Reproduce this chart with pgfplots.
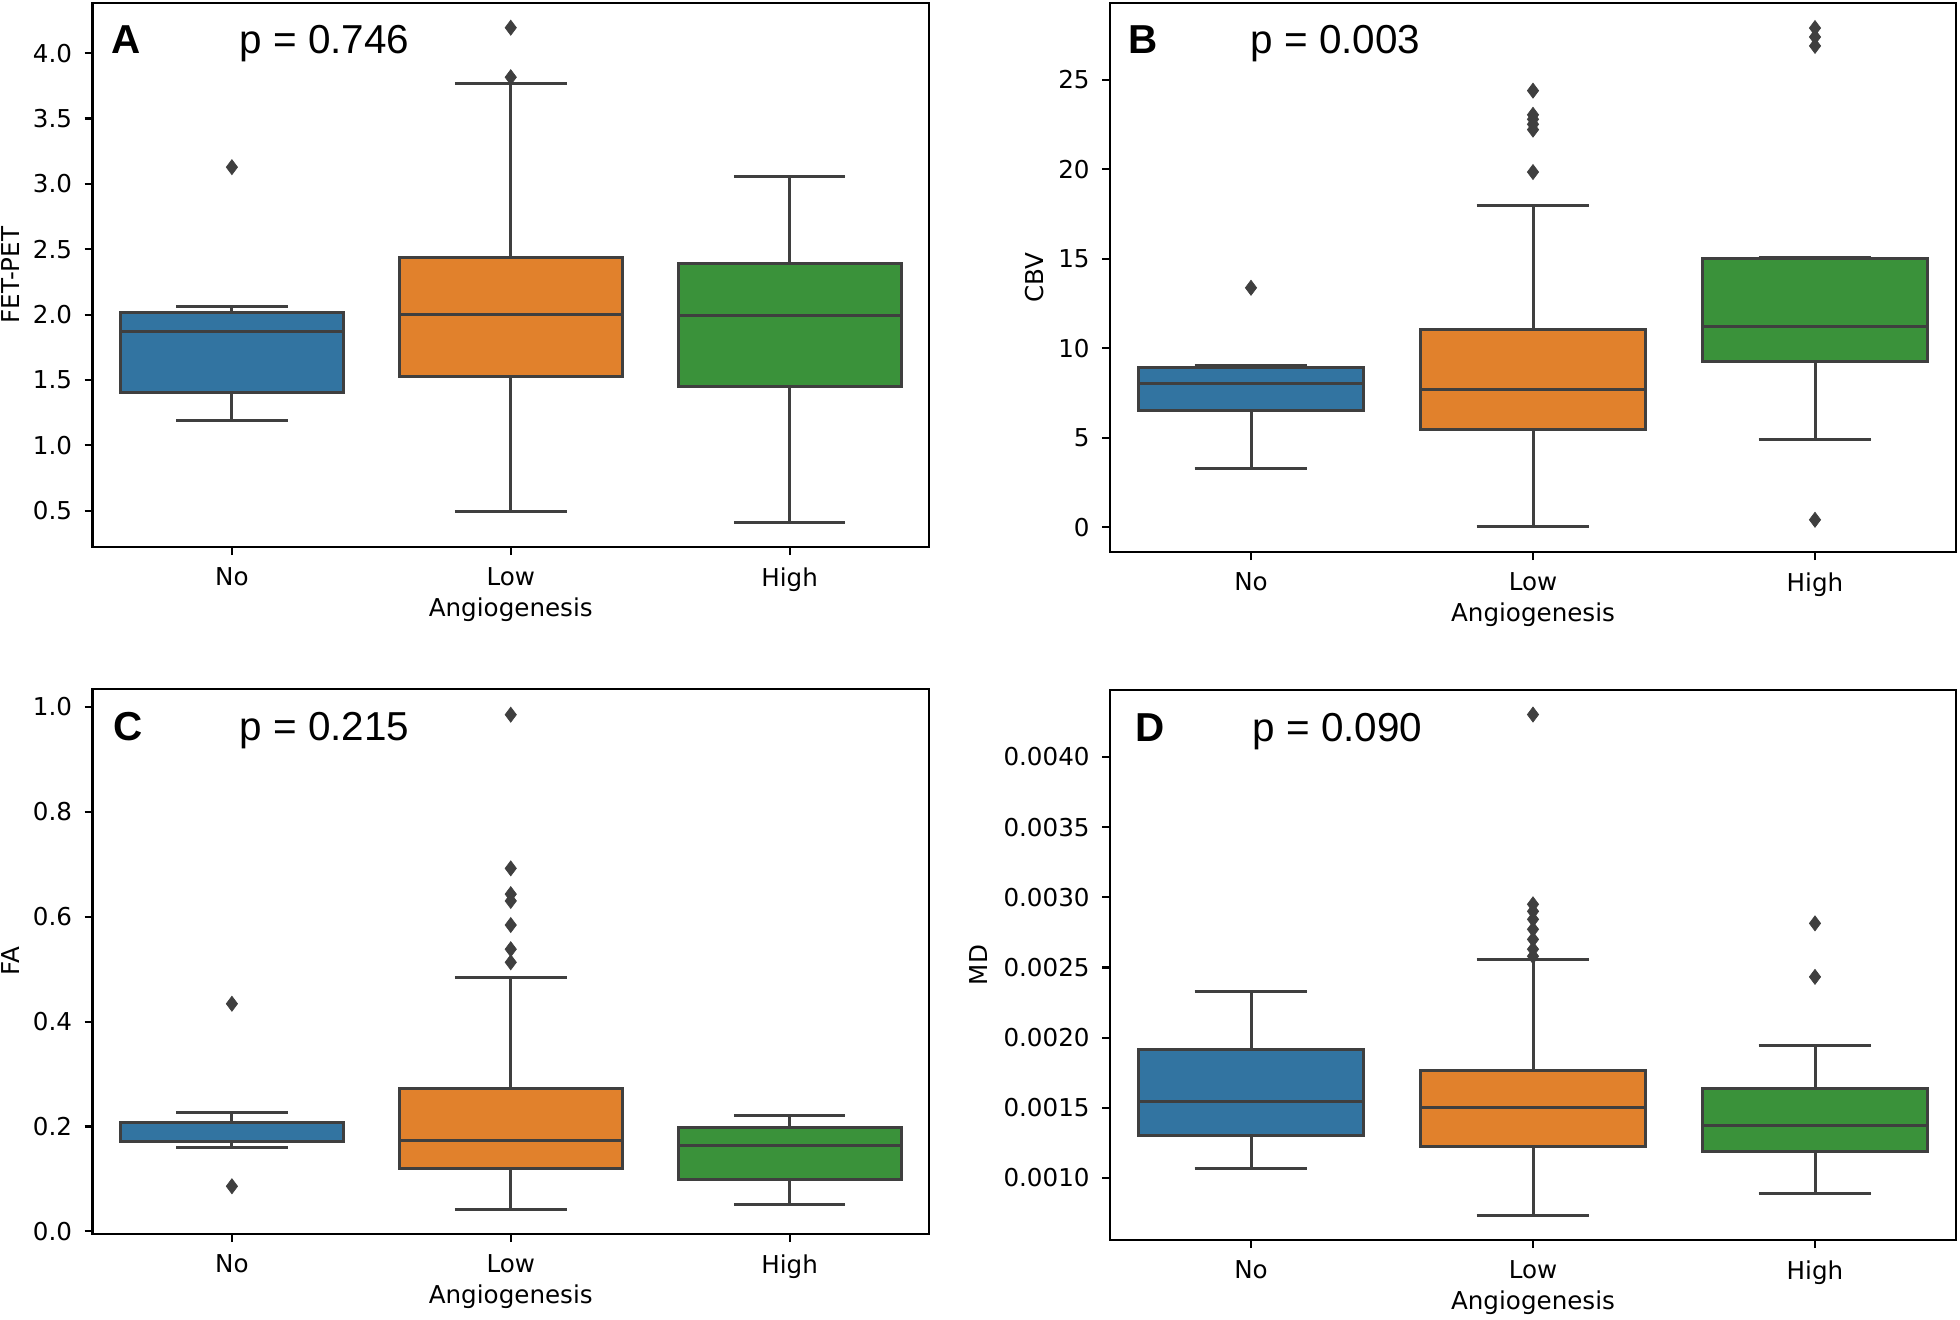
\documentclass[border=0pt]{standalone}
\usepackage{fontspec}
\setmainfont{DejaVu Sans}
\newfontfamily\arialf{Liberation Sans}
\usepackage{pgfplots}
\pgfplotsset{compat=1.18}
\usepgfplotslibrary{statistics}
\definecolor{sbblue}{HTML}{3274A1}
\definecolor{sborange}{HTML}{E1812C}
\definecolor{sbgreen}{HTML}{3A923A}
\definecolor{sbgray}{HTML}{3F3F3F}
\pgfplotsset{
  sbox/.style={
    scale only axis, anchor=north west,
    xmin=-0.5, xmax=2.5, xtick={0,1,2}, xticklabels={No,Low,High},
    xlabel={Angiogenesis},
    xlabel style={at={(axis description cs:0.5,0)}, anchor=center, yshift=-6.3mm},
    tick align=outside, major tick length=0.8mm, tick pos=left,
    every tick/.style={black, line width=0.6pt},
    axis line style={line width=0.6pt, black},
    ticklabel style={font=\fontsize{7}{8}\selectfont},
    label style={font=\fontsize{7}{8}\selectfont},
    /pgf/number format/assume math mode=true,
    boxplot/draw direction=y,
    scaled y ticks=false,
  },
  ylab/.style={ylabel style={at={([xshift=-#1]axis description cs:0,0.5)}, anchor=center}},
  bx/.style={draw=sbgray, fill=#1, line width=0.85pt,
    mark=diamond*, mark size=0.75mm,
    mark options={fill=sbgray, draw=sbgray, line width=0.2pt}},
}
\newcommand{\panel}[4]{%
  \node[anchor=base west, inner sep=0, xshift=#1, yshift=-5.1mm,
        font=\arialf\bfseries\fontsize{11.5}{13}\selectfont] at (rel axis cs:0,1) {#2};
  \node[anchor=base west, inner sep=0, xshift=#3, yshift=-5.1mm,
        font=\arialf\fontsize{11.5}{13}\selectfont] at (rel axis cs:0,1) {#4};
}
\begin{document}
\begin{tikzpicture}
\path[use as bounding box] (0,0) rectangle (196mm,-132mm);

% ---------------- A
\begin{axis}[sbox, at={(9.25mm,-0.3mm)}, width=83.65mm, height=54.4mm,
  ymin=0.222, ymax=4.384, ytick={0.5,1.0,1.5,2.0,2.5,3.0,3.5,4.0},
  yticklabel style={/pgf/number format/.cd, fixed, fixed zerofill, precision=1},
  ylabel={FET-PET}, ylab=8.15mm]
\addplot[bx=sbblue, boxplot prepared={draw position=0, lower whisker=1.19, lower quartile=1.406,
  median=1.872, upper quartile=2.016, upper whisker=2.0625, box extend=0.8, whisker extend=0.4}]
  table[row sep=\\, y index=0] {data\\ 3.128\\};
\addplot[bx=sborange, boxplot prepared={draw position=1, lower whisker=0.49, lower quartile=1.525,
  median=2.0, upper quartile=2.4375, upper whisker=3.769, box extend=0.8, whisker extend=0.4}]
  table[row sep=\\, y index=0] {data\\ 3.816\\ 4.195\\};
\addplot[bx=sbgreen, boxplot prepared={draw position=2, lower whisker=0.411, lower quartile=1.447,
  median=1.99, upper quartile=2.3875, upper whisker=3.053, box extend=0.8, whisker extend=0.4}]
  coordinates {};
\panel{1.85mm}{A}{14.65mm}{p = 0.746}
\end{axis}

% ---------------- B
\begin{axis}[sbox, at={(111mm,-0.3mm)}, width=84.6mm, height=54.9mm,
  ymin=-1.39, ymax=29.3, ytick={0,5,10,15,20,25},
  ylabel={CBV}, ylab=7.5mm]
\addplot[bx=sbblue, boxplot prepared={draw position=0, lower whisker=3.26, lower quartile=6.53,
  median=8.01, upper quartile=8.9, upper whisker=9.04, box extend=0.8, whisker extend=0.4}]
  table[row sep=\\, y index=0] {data\\ 13.38\\};
\addplot[bx=sborange, boxplot prepared={draw position=1, lower whisker=0.02, lower quartile=5.46,
  median=7.69, upper quartile=11.07, upper whisker=17.99, box extend=0.8, whisker extend=0.4}]
  table[row sep=\\, y index=0] {data\\ 19.85\\ 22.22\\ 22.52\\ 22.8\\ 23.05\\ 24.4\\};
\addplot[bx=sbgreen, boxplot prepared={draw position=2, lower whisker=4.89, lower quartile=9.27,
  median=11.19, upper quartile=15.02, upper whisker=15.07, box extend=0.8, whisker extend=0.4}]
  table[row sep=\\, y index=0] {data\\ 0.41\\ 26.9\\ 27.4\\ 27.9\\};
\panel{1.75mm}{B}{14.0mm}{p = 0.003}
\end{axis}

% ---------------- C
\begin{axis}[sbox, at={(9.25mm,-68.9mm)}, width=83.65mm, height=54.5mm,
  ymin=-0.005, ymax=1.034, ytick={0,0.2,0.4,0.6,0.8,1.0},
  yticklabel style={/pgf/number format/.cd, fixed, fixed zerofill, precision=1},
  ylabel={FA}, ylab=8.15mm]
\addplot[bx=sbblue, boxplot prepared={draw position=0, lower whisker=0.159, lower quartile=0.172,
  median=0.207, upper quartile=0.208, upper whisker=0.227, box extend=0.8, whisker extend=0.4}]
  table[row sep=\\, y index=0] {data\\ 0.086\\ 0.434\\};
\addplot[bx=sborange, boxplot prepared={draw position=1, lower whisker=0.041, lower quartile=0.12,
  median=0.174, upper quartile=0.272, upper whisker=0.484, box extend=0.8, whisker extend=0.4}]
  table[row sep=\\, y index=0] {data\\ 0.513\\ 0.538\\ 0.584\\ 0.630\\ 0.643\\ 0.692\\ 0.985\\};
\addplot[bx=sbgreen, boxplot prepared={draw position=2, lower whisker=0.052, lower quartile=0.098,
  median=0.163, upper quartile=0.198, upper whisker=0.22, box extend=0.8, whisker extend=0.4}]
  coordinates {};
\panel{2.0mm}{C}{14.65mm}{p = 0.215}
\end{axis}

% ---------------- D
\begin{axis}[sbox, at={(111mm,-69.0mm)}, width=84.6mm, height=55.0mm,
  ymin=0.000558, ymax=0.004477,
  ytick={0.0010,0.0015,0.0020,0.0025,0.0030,0.0035,0.0040},
  yticklabel style={/pgf/number format/.cd, fixed, fixed zerofill, precision=4},
  ylabel={MD}, ylab=13.1mm]
\addplot[bx=sbblue, boxplot prepared={draw position=0, lower whisker=0.00107, lower quartile=0.00130,
  median=0.001544, upper quartile=0.001916, upper whisker=0.002326, box extend=0.8, whisker extend=0.4}]
  coordinates {};
\addplot[bx=sborange, boxplot prepared={draw position=1, lower whisker=0.000735, lower quartile=0.001227,
  median=0.0015, upper quartile=0.001767, upper whisker=0.002556, box extend=0.8, whisker extend=0.4}]
  table[row sep=\\, y index=0] {data\\ 0.00258\\ 0.00263\\ 0.00270\\ 0.002772\\ 0.002843\\ 0.0029\\ 0.00295\\ 0.004302\\};
\addplot[bx=sbgreen, boxplot prepared={draw position=2, lower whisker=0.000887, lower quartile=0.001186,
  median=0.001372, upper quartile=0.001637, upper whisker=0.001945, box extend=0.8, whisker extend=0.4}]
  table[row sep=\\, y index=0] {data\\ 0.002433\\ 0.002814\\};
\panel{2.5mm}{D}{14.2mm}{p = 0.090}
\end{axis}
\end{tikzpicture}
\end{document}
